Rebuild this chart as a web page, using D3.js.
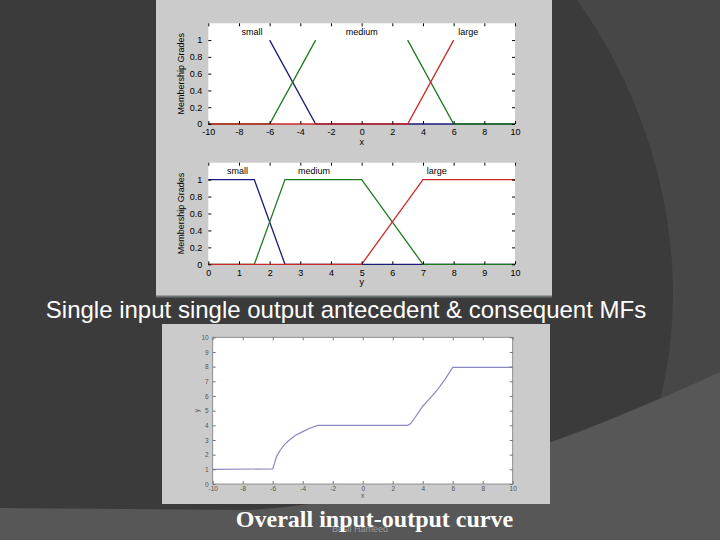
<!DOCTYPE html>
<html><head><meta charset="utf-8">
<script src="https://cdn.jsdelivr.net/npm/d3@7"></script>
<style>
html,body{margin:0;padding:0;background:#3b3b3b;}
svg{display:block;}
</style></head>
<body>
<svg id="c" width="720" height="540" style="font-family:'Liberation Sans',Arial,sans-serif"></svg>
<script>
// ---------- data ----------
const inputTicks = [-10,-8,-6,-4,-2,0,2,4,6,8,10];
const outputTicks = [0,1,2,3,4,5,6,7,8,9,10];
const gradeTicks = [0,0.2,0.4,0.6,0.8,1];
const curveYTicks = [0,1,2,3,4,5,6,7,8,9,10];
const mfNames = ["small","medium","large"];
const mfColors = ["#1a1a7a","#1f7a1f","#cc2a2a"];

// input MFs (visible segments; null = gap)
const inSmallX  = [-6,-3,10];
const inSmallY  = [1,0,0];
const inMediumX = [-10,-6,-3,0,3,6,10];
const inMediumY = [0,0,1,null,1,0,0];
const inLargeX  = [-10,3,6];
const inLargeY  = [0,0,1];
const inLabelX  = [-7.15,0,6.95];

// output MFs
const outSmallX  = [0,1.5,2.5,10];
const outSmallY  = [1,1,0,0];
const outMediumX = [0,1.5,2.5,5,7,10];
const outMediumY = [0,0,1,1,0,0];
const outLargeX  = [0,5,7,10];
const outLargeY  = [0,0,1,1];
const outLabelX  = [0.95,3.45,7.45];
const labelY = 1.1;

// overall input-output curve
const curveX = [-10,-6,-5.9,-5.75,-5.5,-5.2,-5,-4.5,-4,-3.5,-3,3,3.2,3.5,4,4.5,5,5.5,6,10];
const curveY = [1,1.03,1.35,1.85,2.3,2.7,2.9,3.3,3.57,3.82,4,4,4.12,4.55,5.3,5.85,6.45,7.15,7.95,7.95];

const title1 = "Single input single output antecedent & consequent MFs";
const title2 = "Overall input-output curve";
const author = "Basil Hameed";

// ---------- drawing ----------
const svg = d3.select("#c");
const SANS = "'Liberation Sans', Arial, sans-serif";

// background shapes
svg.append("rect").attr("width",720).attr("height",540).attr("fill","#3b3b3b");
svg.append("path").attr("d","M577,0 C645,95 672,200 673,290 C673,330 668,370 660,400 L720,400 L720,0 Z").attr("fill","#474747");
svg.append("path").attr("d","M0,508 L250,510 C400,500 550,450 720,372 L720,540 L0,540 Z").attr("fill","#575757");

// panels
svg.append("rect").attr("x",156).attr("y",0).attr("width",396).attr("height",297).attr("fill","#cbcbcb");
svg.append("rect").attr("x",156).attr("y",295.5).attr("width",396).attr("height",2).attr("fill","#6c7476");
svg.append("rect").attr("x",162).attr("y",324).attr("width",388).attr("height",180).attr("fill","#cbcbcb");

const fmt = d => String(d);

function mfPlot(opt){
  const g = svg.append("g");
  const x = d3.scaleLinear().domain(opt.xDomain).range([opt.left,opt.right]);
  const y = d3.scaleLinear().domain([0,1.2]).range([opt.bottom,opt.top]);
  g.append("rect").attr("x",opt.left).attr("y",opt.top)
    .attr("width",opt.right-opt.left).attr("height",opt.bottom-opt.top).attr("fill","#fff");
  const line = d3.line().defined(d=>d[1]!=null).x(d=>x(d[0])).y(d=>y(d[1]));
  opt.series.forEach((s,i)=>{
    const pts = s.x.map((v,j)=>[v,s.y[j]]);
    g.append("path").attr("d",line(pts)).attr("fill","none")
      .attr("stroke",mfColors[i]).attr("stroke-width",1.3);
  });
  opt.labelX.forEach((lx,i)=>{
    g.append("text").attr("x",x(lx)).attr("y",y(labelY)+3).attr("text-anchor","middle")
      .attr("font-size",9).attr("fill","#000").text(mfNames[i]);
  });
  const ax = g.append("g").attr("transform",`translate(0,${opt.bottom})`)
    .call(d3.axisBottom(x).tickValues(opt.xTicks).tickSize(-3).tickPadding(5).tickFormat(fmt));
  const axT = g.append("g").attr("transform",`translate(0,${opt.top})`)
    .call(d3.axisTop(x).tickValues(opt.xTicks).tickSize(-3).tickFormat(""));
  const ay = g.append("g").attr("transform",`translate(${opt.left},0)`)
    .call(d3.axisLeft(y).tickValues(gradeTicks).tickSize(-3).tickPadding(6).tickFormat(fmt));
  const ayR = g.append("g").attr("transform",`translate(${opt.right},0)`)
    .call(d3.axisRight(y).tickValues(gradeTicks).tickSize(-3).tickFormat(""));
  [ax,axT,ay,ayR].forEach(a=>{
    a.select(".domain").remove();
    a.selectAll("line").attr("stroke","#000");
    a.selectAll("text").attr("font-size",9).attr("fill","#000").style("font-family",SANS);
  });
  g.append("text").attr("x",(opt.left+opt.right)/2).attr("y",opt.bottom+21).attr("text-anchor","middle")
    .attr("font-size",9).attr("fill","#000").text(opt.xLabel);
  g.append("text").attr("transform",`translate(184,${(opt.top+opt.bottom)/2}) rotate(-90)`)
    .attr("text-anchor","middle").attr("font-size",9).attr("fill","#000").text("Membership Grades");
}

mfPlot({left:208.3,right:515,top:23.3,bottom:124,xDomain:[-10,10],xTicks:inputTicks,xLabel:"x",
  labelX:inLabelX,
  series:[{x:inSmallX,y:inSmallY},{x:inMediumX,y:inMediumY},{x:inLargeX,y:inLargeY}]});
mfPlot({left:208.3,right:515,top:162.7,bottom:264.3,xDomain:[0,10],xTicks:outputTicks,xLabel:"y",
  labelX:outLabelX,
  series:[{x:outSmallX,y:outSmallY},{x:outMediumX,y:outMediumY},{x:outLargeX,y:outLargeY}]});

// overall curve plot
(function(){
  const L=212.7,R=512.7,T=337.3,B=484;
  const g = svg.append("g");
  const x = d3.scaleLinear().domain([-10,10]).range([L,R]);
  const y = d3.scaleLinear().domain([0,10]).range([B,T]);
  g.append("rect").attr("x",L).attr("y",T).attr("width",R-L).attr("height",B-T)
    .attr("fill","#fff").attr("stroke","#7a7a7a").attr("stroke-width",0.8);
  const pts = curveX.map((v,i)=>[v,curveY[i]]);
  g.append("path").attr("d",d3.line().x(d=>x(d[0])).y(d=>y(d[1]))(pts))
    .attr("fill","none").attr("stroke","#8a88c4").attr("stroke-width",1.2);
  const axes = [
    g.append("g").attr("transform",`translate(0,${B})`).call(d3.axisBottom(x).tickValues(inputTicks).tickSize(-3).tickPadding(2).tickFormat(fmt)),
    g.append("g").attr("transform",`translate(0,${T})`).call(d3.axisTop(x).tickValues(inputTicks).tickSize(-3).tickFormat("")),
    g.append("g").attr("transform",`translate(${L},0)`).call(d3.axisLeft(y).tickValues(curveYTicks).tickSize(-3).tickPadding(4).tickFormat(fmt)),
    g.append("g").attr("transform",`translate(${R},0)`).call(d3.axisRight(y).tickValues(curveYTicks).tickSize(-3).tickFormat(""))
  ];
  axes.forEach(a=>{
    a.select(".domain").remove();
    a.selectAll("line").attr("stroke","#777");
    a.selectAll("text").attr("font-size",6.5).attr("fill","#555").style("font-family",SANS);
  });
  g.append("text").attr("x",(L+R)/2).attr("y",B+14).attr("text-anchor","middle")
    .attr("font-size",6.5).attr("fill","#555").text("x");
  g.append("text").attr("transform",`translate(199,${(T+B)/2}) rotate(-90)`).attr("text-anchor","middle")
    .attr("font-size",6.5).attr("fill","#555").text("y");
})();

// slide texts
svg.append("text").attr("x",346).attr("y",318).attr("text-anchor","middle")
  .attr("font-size",24).attr("fill","#fff").style("font-family",SANS).text(title1);
svg.append("text").attr("x",360).attr("y",532).attr("text-anchor","middle")
  .attr("font-size",9).attr("fill","#9a9a9a").style("font-family",SANS).text(author);
svg.append("text").attr("x",374.5).attr("y",527).attr("text-anchor","middle")
  .style("font-family","'Liberation Serif', 'Times New Roman', serif").attr("font-weight","bold")
  .attr("font-size",24).attr("fill","#fff").text(title2);
</script>
</body></html>
